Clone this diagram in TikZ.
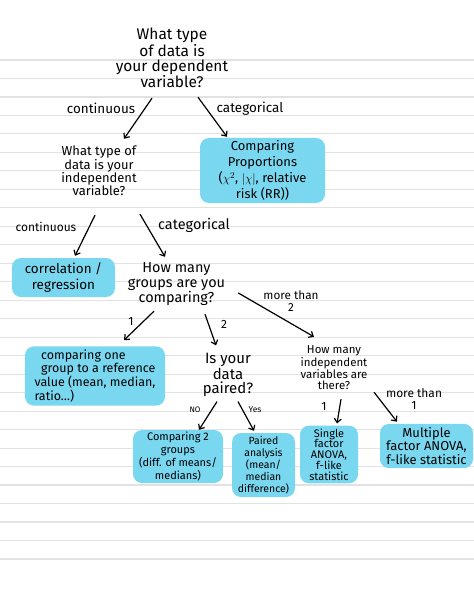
\documentclass[tikz,border=0pt]{standalone}
\usepackage{fontspec}
\setmainfont{Fira Sans}
\usepackage{xcolor}
\usetikzlibrary{arrows.meta, positioning}
\definecolor{hiblue}{RGB}{122,215,240}
\definecolor{rulegray}{RGB}{226,226,226}
\newcommand{\fs}[2]{\fontsize{#1}{#2}\selectfont}
\tikzset{
    every node/.style={inner sep=0pt, align=center},
    hilite/.style={fill=hiblue, rounded corners=9bp, inner sep=3pt},
    branch/.style={font=\fs{13.5}{15}},
    arrow/.style={-{Straight Barb[length=4bp, width=7bp]}, line width=1.2bp},
    ruling/.style={draw=rulegray, line width=1.1bp},
}

\begin{document}
\begin{tikzpicture}[x=1bp, y=-1bp]
\useasboundingbox (0,0) rectangle (474,612);
% lined paper
\def\rulegap{18.48}
\foreach \i in {0,...,27}{
  \draw[ruling] (0,{60+\rulegap*\i}) -- (474,{60+\rulegap*\i});
}

% questions
\node[font=\fs{15.5}{15.3}, minimum width=112bp, minimum height=62bp] (qdep) at (172,58)
  {What type\\of data is\\your dependent\\variable?};
\node[font=\fs{13}{13.5}, minimum width=94bp, minimum height=54bp] (qindep) at (99,171)
  {What type of\\data is your\\independent\\variable?};
\node[font=\fs{14.5}{15}, minimum width=97bp, minimum height=44bp] (qgroups) at (176.5,284)
  {How many\\groups are you\\comparing?};
\node[font=\fs{15}{14}, minimum width=50bp, minimum height=42bp] (qpaired) at (228,375)
  {Is your\\data\\paired?};
\node[font=\fs{11.5}{10.8}, minimum width=72bp, minimum height=45bp] (qivars) at (334,367.5)
  {How many\\independent\\variables are\\there?};

% answers (highlighted)
\node[hilite, inner sep=2pt, font=\fs{13}{15.5}, minimum width=125bp, minimum height=65bp] (rprop) at (262.5,170.5)
  {Comparing\\Proportions\\[1pt]($\chi^2$, $|\chi|$, relative\\risk (RR))};
\node[hilite, font=\fs{13.5}{16}, minimum width=103bp, minimum height=39bp] (rcorr) at (63.5,277.5)
  {correlation /\\regression};
\node[hilite, align=left, font=\fs{12.5}{14}, minimum width=140bp, minimum height=58bp] (rone) at (95,376)
  {\ \ comparing one\\\ \ group to a reference\\value (mean, median,\\ratio\ldots)};
\node[hilite, inner sep=2pt, font=\fs{11}{12.8}, minimum width=90bp, minimum height=53bp] (rtwo) at (178,456.5)
  {Comparing 2\\groups\\(diff. of means/\\medians)};
\node[hilite, font=\fs{10.5}{12}, minimum width=63bp, minimum height=64bp] (rpaired) at (263.5,465)
  {Paired\\analysis\\(mean/\\median\\difference)};
\node[hilite, font=\fs{11}{10.8}, minimum width=58bp, minimum height=55bp] (rsingle) at (329,454.5)
  {Single\\factor\\ANOVA,\\f-like\\statistic};
\node[hilite, font=\fs{13}{14}, minimum width=93bp, minimum height=42bp] (rmulti) at (426.5,446)
  {Multiple\\factor ANOVA,\\f-like statistic};

% branch labels
\node[branch] (lcont) at (101,108) {continuous};
\node[branch] (lcat) at (250,109) {categorical};
\node[branch, font=\fs{12}{13}] (lcont2) at (46,227) {continuous};
\node[branch, font=\fs{14.5}{15}] (lcat2) at (194,225) {categorical};
\node[branch, font=\fs{12}{13}] (lone) at (131,321) {1};
\node[branch, font=\fs{12}{13}] (ltwo) at (224,324) {2};
\node[branch, font=\fs{11.8}{11.5}] (lmore) at (291,301) {more than\\2};
\node[branch, font=\fs{8}{10}] (lno) at (195,410) {NO};
\node[branch, font=\fs{8.5}{10}] (lyes) at (255,410) {Yes};
\node[branch, font=\fs{12}{13}] (lone2) at (324,406) {1};
\node[branch, font=\fs{12}{13}] (lmore2) at (414,399) {more than\\1};

% arrows
\draw[arrow] ([shift={(-20,9)}]qdep.south) -- ([shift={(25,-5)}]qindep.north);
\draw[arrow] ([shift={(26,8)}]qdep.south) -- ([shift={(-35.5,-1)}]rprop.north);
\draw[arrow] ([shift={(-4,17)}]qindep.south) -- ([shift={(11.5,-2)}]rcorr.north);
\draw[arrow] ([shift={(41,16)}]qindep.south) -- ([shift={(-11.5,-5)}]qgroups.north);
\draw[arrow] ([shift={(-22.5,5)}]qgroups.south) -- ([shift={(29,-6)}]rone.north);
\draw[arrow] ([shift={(28.5,8)}]qgroups.south) -- ([shift={(-12,-8)}]qpaired.north);
\draw[arrow] ([shift={(13,9)}]qgroups.east) -- ([shift={(-20,-8)}]qivars.north);
\draw[arrow] ([shift={(-11,5)}]qpaired.south) -- ([shift={(21,0)}]rtwo.north);
\draw[arrow] ([shift={(10,5)}]qpaired.south) -- ([shift={(-9.5,-2)}]rpaired.north);
\draw[arrow] ([shift={(7,9)}]qivars.south) -- ([shift={(8,-2)}]rsingle.north);
\draw[arrow] ([shift={(40,2)}]qivars.south) -- ([shift={(-29.5,-2)}]rmulti.north);

\end{tikzpicture}
\end{document}
